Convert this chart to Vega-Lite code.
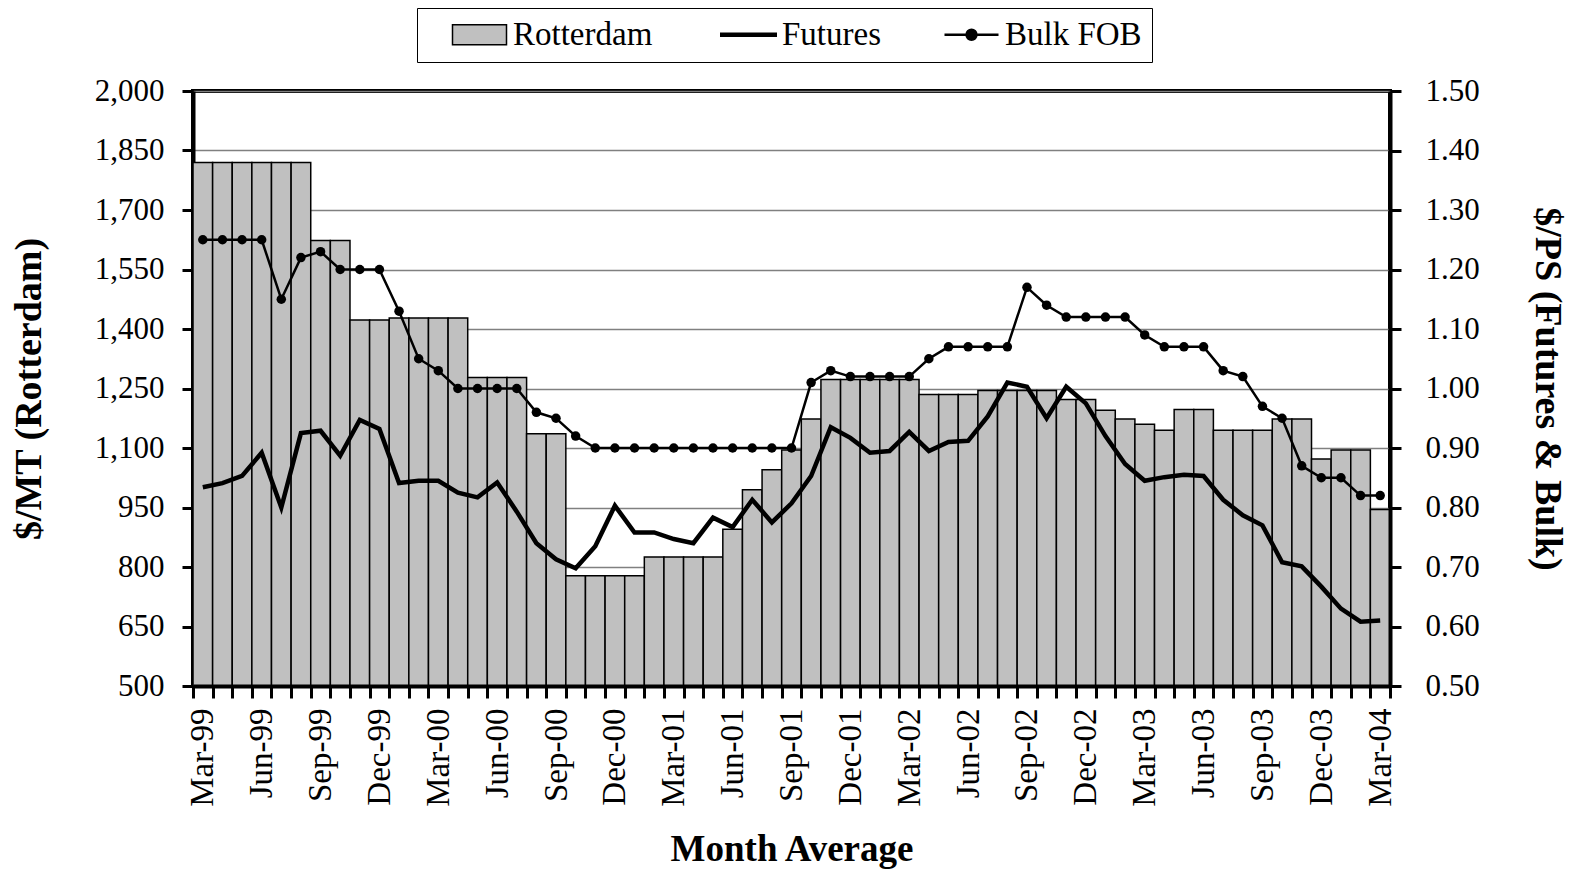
{
  "$schema": "https://vega.github.io/schema/vega-lite/v6.json",
  "autosize": {"type": "none"},
  "width": 1197,
  "height": 595,
  "padding": {"left": 193, "top": 91, "right": 182, "bottom": 185},
  "background": "white",
  "config": {
    "font": "Liberation Serif",
    "view": {"stroke": "black", "strokeWidth": 4},
    "axis": {
      "labelFont": "Liberation Serif",
      "titleFont": "Liberation Serif",
      "labelColor": "black",
      "titleColor": "black",
      "domainColor": "black",
      "domainWidth": 4,
      "tickColor": "black",
      "tickWidth": 3,
      "tickSize": 11
    }
  },
  "data": {"values": [
    {"month": "Mar-99", "rotterdam": 1820, "futures": 0.834, "bulk": 1.25},
    {"month": "Apr-99", "rotterdam": 1820, "futures": 0.841, "bulk": 1.25},
    {"month": "May-99", "rotterdam": 1820, "futures": 0.853, "bulk": 1.25},
    {"month": "Jun-99", "rotterdam": 1820, "futures": 0.892, "bulk": 1.25},
    {"month": "Jul-99", "rotterdam": 1820, "futures": 0.800, "bulk": 1.15},
    {"month": "Aug-99", "rotterdam": 1820, "futures": 0.925, "bulk": 1.22},
    {"month": "Sep-99", "rotterdam": 1623, "futures": 0.929, "bulk": 1.23},
    {"month": "Oct-99", "rotterdam": 1623, "futures": 0.887, "bulk": 1.20},
    {"month": "Nov-99", "rotterdam": 1423, "futures": 0.947, "bulk": 1.20},
    {"month": "Dec-99", "rotterdam": 1423, "futures": 0.932, "bulk": 1.20},
    {"month": "Jan-00", "rotterdam": 1428, "futures": 0.841, "bulk": 1.13},
    {"month": "Feb-00", "rotterdam": 1428, "futures": 0.845, "bulk": 1.05},
    {"month": "Mar-00", "rotterdam": 1428, "futures": 0.845, "bulk": 1.03},
    {"month": "Apr-00", "rotterdam": 1428, "futures": 0.825, "bulk": 1.00},
    {"month": "May-00", "rotterdam": 1278, "futures": 0.817, "bulk": 1.00},
    {"month": "Jun-00", "rotterdam": 1278, "futures": 0.842, "bulk": 1.00},
    {"month": "Jul-00", "rotterdam": 1278, "futures": 0.793, "bulk": 1.00},
    {"month": "Aug-00", "rotterdam": 1136, "futures": 0.740, "bulk": 0.96},
    {"month": "Sep-00", "rotterdam": 1136, "futures": 0.713, "bulk": 0.95},
    {"month": "Oct-00", "rotterdam": 778, "futures": 0.698, "bulk": 0.92},
    {"month": "Nov-00", "rotterdam": 778, "futures": 0.735, "bulk": 0.90},
    {"month": "Dec-00", "rotterdam": 778, "futures": 0.803, "bulk": 0.90},
    {"month": "Jan-01", "rotterdam": 778, "futures": 0.758, "bulk": 0.90},
    {"month": "Feb-01", "rotterdam": 825, "futures": 0.758, "bulk": 0.90},
    {"month": "Mar-01", "rotterdam": 825, "futures": 0.747, "bulk": 0.90},
    {"month": "Apr-01", "rotterdam": 825, "futures": 0.740, "bulk": 0.90},
    {"month": "May-01", "rotterdam": 825, "futures": 0.783, "bulk": 0.90},
    {"month": "Jun-01", "rotterdam": 895, "futures": 0.767, "bulk": 0.90},
    {"month": "Jul-01", "rotterdam": 995, "futures": 0.813, "bulk": 0.90},
    {"month": "Aug-01", "rotterdam": 1045, "futures": 0.775, "bulk": 0.90},
    {"month": "Sep-01", "rotterdam": 1095, "futures": 0.807, "bulk": 0.90},
    {"month": "Oct-01", "rotterdam": 1173, "futures": 0.853, "bulk": 1.01},
    {"month": "Nov-01", "rotterdam": 1273, "futures": 0.935, "bulk": 1.03},
    {"month": "Dec-01", "rotterdam": 1273, "futures": 0.917, "bulk": 1.02},
    {"month": "Jan-02", "rotterdam": 1273, "futures": 0.892, "bulk": 1.02},
    {"month": "Feb-02", "rotterdam": 1273, "futures": 0.895, "bulk": 1.02},
    {"month": "Mar-02", "rotterdam": 1273, "futures": 0.927, "bulk": 1.02},
    {"month": "Apr-02", "rotterdam": 1235, "futures": 0.895, "bulk": 1.05},
    {"month": "May-02", "rotterdam": 1235, "futures": 0.910, "bulk": 1.07},
    {"month": "Jun-02", "rotterdam": 1235, "futures": 0.912, "bulk": 1.07},
    {"month": "Jul-02", "rotterdam": 1245, "futures": 0.953, "bulk": 1.07},
    {"month": "Aug-02", "rotterdam": 1245, "futures": 1.010, "bulk": 1.07},
    {"month": "Sep-02", "rotterdam": 1245, "futures": 1.003, "bulk": 1.17},
    {"month": "Oct-02", "rotterdam": 1245, "futures": 0.950, "bulk": 1.14},
    {"month": "Nov-02", "rotterdam": 1222, "futures": 1.003, "bulk": 1.12},
    {"month": "Dec-02", "rotterdam": 1222, "futures": 0.975, "bulk": 1.12},
    {"month": "Jan-03", "rotterdam": 1195, "futures": 0.920, "bulk": 1.12},
    {"month": "Feb-03", "rotterdam": 1173, "futures": 0.873, "bulk": 1.12},
    {"month": "Mar-03", "rotterdam": 1160, "futures": 0.845, "bulk": 1.09},
    {"month": "Apr-03", "rotterdam": 1145, "futures": 0.851, "bulk": 1.07},
    {"month": "May-03", "rotterdam": 1197, "futures": 0.855, "bulk": 1.07},
    {"month": "Jun-03", "rotterdam": 1197, "futures": 0.853, "bulk": 1.07},
    {"month": "Jul-03", "rotterdam": 1145, "futures": 0.813, "bulk": 1.03},
    {"month": "Aug-03", "rotterdam": 1145, "futures": 0.787, "bulk": 1.02},
    {"month": "Sep-03", "rotterdam": 1145, "futures": 0.770, "bulk": 0.97},
    {"month": "Oct-03", "rotterdam": 1173, "futures": 0.708, "bulk": 0.95},
    {"month": "Nov-03", "rotterdam": 1173, "futures": 0.701, "bulk": 0.87},
    {"month": "Dec-03", "rotterdam": 1072, "futures": 0.667, "bulk": 0.85},
    {"month": "Jan-04", "rotterdam": 1095, "futures": 0.630, "bulk": 0.85},
    {"month": "Feb-04", "rotterdam": 1095, "futures": 0.608, "bulk": 0.82},
    {"month": "Mar-04", "rotterdam": 945, "futures": 0.610, "bulk": 0.82}
  ]},
  "encoding": {
    "x": {
      "field": "month",
      "type": "ordinal",
      "sort": null,
      "scale": {"paddingInner": 0, "paddingOuter": 0},
      "axis": {
        "title": "Month Average",
        "titleFontSize": 37,
        "titleFontWeight": "bold",
        "titlePadding": 25,
        "labelFontSize": 33,
        "labelAngle": 270,
        "labelPadding": 10,
        "labelOverlap": false,
        "tickBand": "extent",
        "tickSize": 12,
        "labelExpr": "indexof(['Mar','Jun','Sep','Dec'], slice(datum.label,0,3)) >= 0 ? datum.label : ''",
        "zindex": 1
      }
    }
  },
  "layer": [
    {
      "mark": {"type": "bar", "stroke": "black", "strokeWidth": 1.5},
      "encoding": {
        "y": {
          "field": "rotterdam",
          "type": "quantitative",
          "scale": {"domain": [500, 2000], "zero": false, "nice": false},
          "axis": {
            "title": "$/MT (Rotterdam)",
            "titleFontSize": 38,
            "titleFontWeight": "bold",
            "titlePadding": 46,
            "labelFontSize": 31,
            "labelPadding": 18,
            "values": [500, 650, 800, 950, 1100, 1250, 1400, 1550, 1700, 1850, 2000],
            "format": ",.0f",
            "grid": true,
            "gridColor": "#808080",
            "gridWidth": 1.5,
            "zindex": 0
          }
        },
        "y2": {"datum": 500},
        "color": {
          "datum": "Rotterdam",
          "type": "nominal",
          "scale": {"domain": ["Rotterdam", "Futures", "Bulk FOB"], "range": ["#c0c0c0", "black", "black"]},
          "legend": {
            "title": "\u00a0",
            "titleOrient": "left",
            "titleFontSize": 4,
            "titlePadding": 36,
            "orient": "none",
            "direction": "horizontal",
            "legendX": 224,
            "legendY": -83,
            "padding": 10,
            "strokeColor": "black",
            "fillColor": "white",
            "labelFont": "Liberation Serif",
            "labelFontSize": 33,
            "labelColor": "black",
            "labelOffset": 17,
            "columnPadding": 58,
            "symbolSize": 900,
            "symbolOpacity": 1,
            "symbolStrokeColor": "black",
            "symbolType": {"expr": "datum.value === 'Rotterdam' ? 'M-1.8,-0.67H1.8V0.67H-1.8Z' : datum.value === 'Futures' ? 'M-1.9,0H1.9' : 'M-1.8,0H1.8M-0.33,0A0.33,0.33,0,1,1,0.33,0A0.33,0.33,0,1,1,-0.33,0Z'"},
            "symbolStrokeWidth": {"expr": "datum.value === 'Futures' ? 4.5 : datum.value === 'Bulk FOB' ? 2.5 : 1.5"}
          }
        }
      }
    },
    {
      "layer": [
        {
          "mark": {"type": "line", "strokeWidth": 4.5, "color": "black"},
          "encoding": {
            "y": {
              "field": "futures",
              "type": "quantitative",
              "scale": {"domain": [0.5, 1.5], "zero": false, "nice": false},
              "axis": {
                "orient": "right",
                "title": "$/PS (Futures & Bulk)",
                "titleFontSize": 38,
                "titleFontWeight": "bold",
                "titlePadding": 48,
                "labelFontSize": 31,
                "labelPadding": 24,
                "values": [0.5, 0.6, 0.7, 0.8, 0.9, 1.0, 1.1, 1.2, 1.3, 1.4, 1.5],
                "format": ".2f",
                "grid": false,
                "zindex": 1
              }
            }
          }
        },
        {
          "mark": {"type": "line", "strokeWidth": 2.5, "color": "black", "point": {"filled": true, "size": 90, "color": "black"}},
          "encoding": {
            "y": {
              "field": "bulk",
              "type": "quantitative",
              "scale": {"domain": [0.5, 1.5], "zero": false, "nice": false},
              "axis": {
                "orient": "right",
                "title": "$/PS (Futures & Bulk)",
                "titleFontSize": 38,
                "titleFontWeight": "bold",
                "titlePadding": 48,
                "labelFontSize": 31,
                "labelPadding": 24,
                "values": [0.5, 0.6, 0.7, 0.8, 0.9, 1.0, 1.1, 1.2, 1.3, 1.4, 1.5],
                "format": ".2f",
                "grid": false,
                "zindex": 1
              }
            }
          }
        }
      ]
    }
  ],
  "resolve": {"scale": {"y": "independent"}}
}
